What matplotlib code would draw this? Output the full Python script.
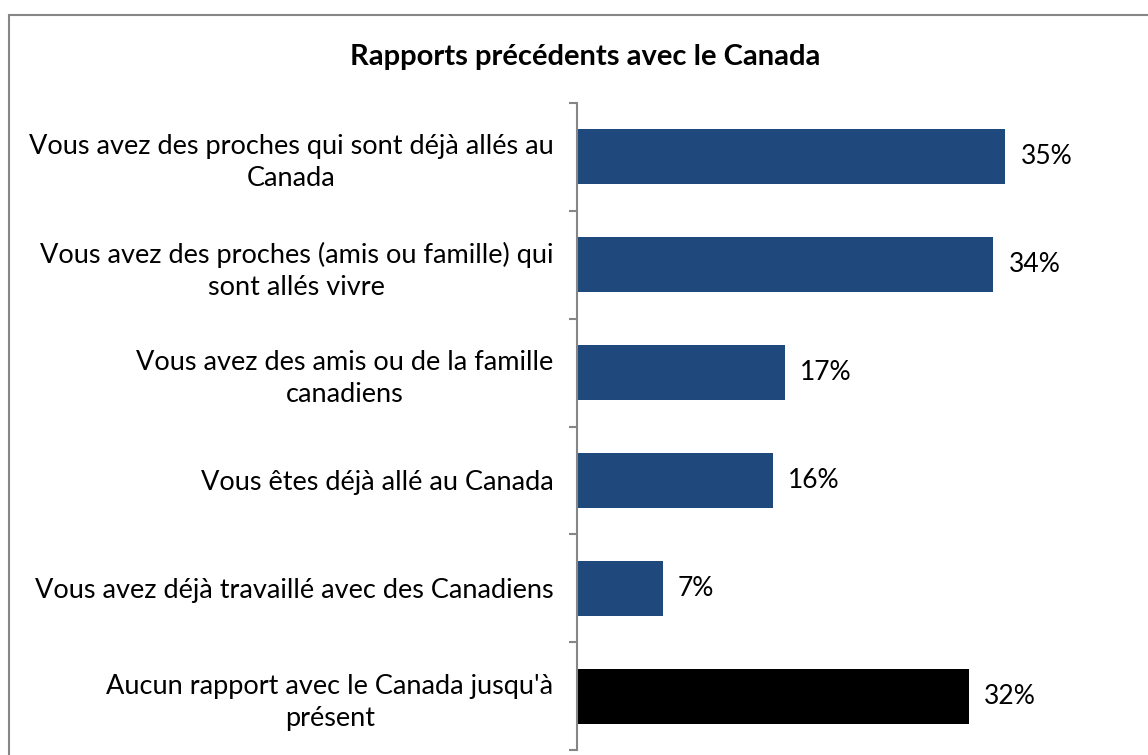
import matplotlib
matplotlib.use("Agg")
import matplotlib.pyplot as plt
from matplotlib.patches import Rectangle

# data
categories = [
    "Vous avez des proches qui sont déjà allés au\nCanada",
    "Vous avez des proches (amis ou famille) qui\nsont allés vivre",
    "Vous avez des amis ou de la famille\ncanadiens",
    "Vous êtes déjà allé au Canada",
    "Vous avez déjà travaillé avec des Canadiens",
    "Aucun rapport avec le Canada jusqu'à\nprésent",
]
values = [35, 34, 17, 16, 7, 32]
bar_colors = ["#1F497D"] * 5 + ["#000000"]
title = "Rapports précédents avec le Canada"

plt.rcParams['font.family'] = ['Lato', 'DejaVu Sans']

W, H = 1148, 755
fig = plt.figure(figsize=(W / 100, H / 100), dpi=100)

# axes placed in pixel terms
left, right, top, bottom = 577, 1140, 103, 750
ax = fig.add_axes([left / W, (H - bottom) / H, (right - left) / W, (bottom - top) / H])

n = len(categories)
pos = list(range(n))
ax.barh(pos, values, height=0.51, color=bar_colors)
ax.set_ylim(n - 0.5, -0.5)
ax.set_xlim(0, 46)

for p, v in zip(pos, values):
    ax.annotate(f"{v}%", (v, p), xytext=(11, 0), textcoords="offset points",
                va="center", ha="left", fontsize=19, color="black")

ax.set_yticks(pos)
ax.set_yticklabels(categories, fontsize=19.5, multialignment="center", linespacing=1.35)
ax.tick_params(axis="y", which="major", length=0, pad=17)
ax.set_yticks([i - 0.5 for i in range(n + 1)], minor=True)
ax.tick_params(axis="y", which="minor", length=6, width=1.5, color="#868686", direction="out")
ax.set_xticks([])

for s in ["top", "right", "bottom"]:
    ax.spines[s].set_visible(False)
ax.spines["left"].set_color("#868686")
ax.spines["left"].set_linewidth(1.5)

fig.text(585 / W, 1 - 57 / H, title, ha="center", va="center",
         fontsize=21, fontweight="bold")

# chart border (only left/top visible in the crop)
fig.patches.append(Rectangle((8.5 / W, -0.1), 1.2, 1 - 14.5 / H + 0.1,
                             transform=fig.transFigure, fill=False,
                             edgecolor="#868686", linewidth=1.5))

fig.savefig("out.png", dpi=100)
